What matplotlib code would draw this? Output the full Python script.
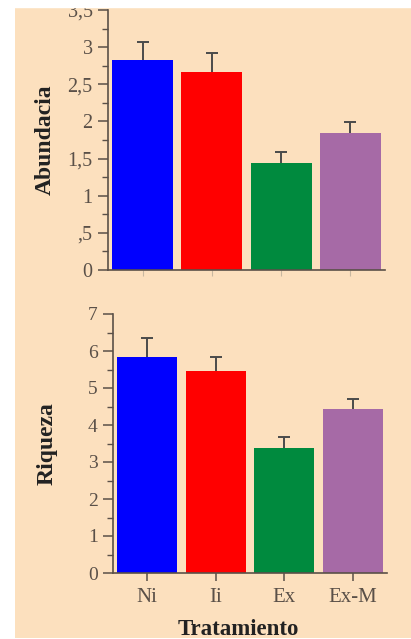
import matplotlib.pyplot as plt
import matplotlib.transforms as mtransforms

# data
tratamientos = ['Ni', 'Ii', 'Ex', 'Ex-M']
colores = ['#0000ff', '#ff0000', '#008a3e', '#a66aa6']
abundancia = [2.83, 2.66, 1.44, 1.85]
abundancia_err = [0.24, 0.26, 0.15, 0.14]
riqueza = [5.85, 5.46, 3.37, 4.43]
riqueza_err = [0.50, 0.39, 0.30, 0.27]

ticks_ab = [0, 0.5, 1, 1.5, 2, 2.5, 3, 3.5]
labels_ab = ['0', ',5', '1', '1,5', '2', '2,5', '3', '3,5']
minor_ab = [0.25, 0.75, 1.25, 1.75, 2.25, 2.75, 3.25]
ticks_ri = [0, 1, 2, 3, 4, 5, 6, 7]
labels_ri = ['0', '1', '2', '3', '4', '5', '6', '7']
minor_ri = [0.5, 1.5, 2.5, 3.5, 4.5, 5.5, 6.5]

fondo = '#fce0be'
gris = '#5a5048'
W, H = 411, 639

plt.rcParams['font.family'] = ['Liberation Serif', 'DejaVu Serif']

fig = plt.figure(figsize=(W / 100, H / 100), dpi=100)
fig.patch.set_facecolor('white')

# peach panel behind both plots
bg = fig.add_axes([15 / W, 1 / H, 1 - 15 / W, 1 - 1 / H], zorder=-1)
bg.axis('off')
bg.add_patch(plt.Rectangle((0, 0), 1, 1, color=fondo, transform=bg.transAxes))
# white strip at the top that crops the upper tick label
fig.add_artist(plt.Rectangle((0, 1 - 7 / H), 1, 7 / H, color='white',
                             transform=fig.transFigure, zorder=10))

x = list(range(len(tratamientos)))


def panel(ax, vals, errs, ymax, ticks, labels, minor, fs):
    ax.set_facecolor('none')
    ax.bar(x, vals, width=0.88, color=colores, zorder=2)
    tops = [v + e for v, e in zip(vals, errs)]
    ax.vlines(x, vals, tops, color='#4a4a4a', lw=1.4, zorder=3)
    ax.plot(x, tops, ls='none', marker='_', ms=8, mew=1.4, color='#4a4a4a', zorder=3)
    ax.set_xlim(-0.5, 3.5)
    ax.set_ylim(0, ymax)
    for s in ['top', 'right']:
        ax.spines[s].set_visible(False)
    for s in ['left', 'bottom']:
        ax.spines[s].set_color(gris)
        ax.spines[s].set_linewidth(1.2)
    ax.set_yticks(ticks)
    ax.set_yticklabels(labels)
    ax.set_yticks(minor, minor=True)
    ax.tick_params(axis='y', which='major', length=7, width=1.1, color=gris,
                   labelcolor=gris, labelsize=fs, pad=4)
    ax.tick_params(axis='y', which='minor', length=4, width=1.0, color=gris)
    ax.set_xticks(x)


ax1 = fig.add_axes([108 / W, 1 - 270 / H, 277 / W, 260 / H])
panel(ax1, abundancia, abundancia_err, 3.5, ticks_ab, labels_ab, minor_ab, 14.5)
ax1.set_xticklabels([])
ax1.tick_params(axis='x', length=4, width=0.8, color='#c8b8a0')
ax1.set_ylabel('Abundacia', fontsize=17, fontweight='bold', color='#222222')
ax1.yaxis.set_label_coords(56 / W, 0.5,
                           transform=mtransforms.blended_transform_factory(fig.transFigure, ax1.transAxes))

ax2 = fig.add_axes([113 / W, 1 - 573 / H, 274 / W, 259 / H])
panel(ax2, riqueza, riqueza_err, 7, ticks_ri, labels_ri, minor_ri, 14)
ax2.set_xticklabels(tratamientos)
ax2.tick_params(axis='x', length=6, width=1.1, color=gris, labelcolor=gris,
                labelsize=15, pad=5)
ax2.set_ylabel('Riqueza', fontsize=17, fontweight='bold', color='#222222')
ax2.yaxis.set_label_coords(58 / W, 0.5,
                           transform=mtransforms.blended_transform_factory(fig.transFigure, ax2.transAxes))
ax2.set_xlabel('Tratamiento', fontsize=16.5, fontweight='bold', color='#222222')
ax2.xaxis.set_label_coords(238 / W, 1 - 619 / H, transform=fig.transFigure)

fig.savefig('out.png', dpi=100, facecolor=fig.get_facecolor())
